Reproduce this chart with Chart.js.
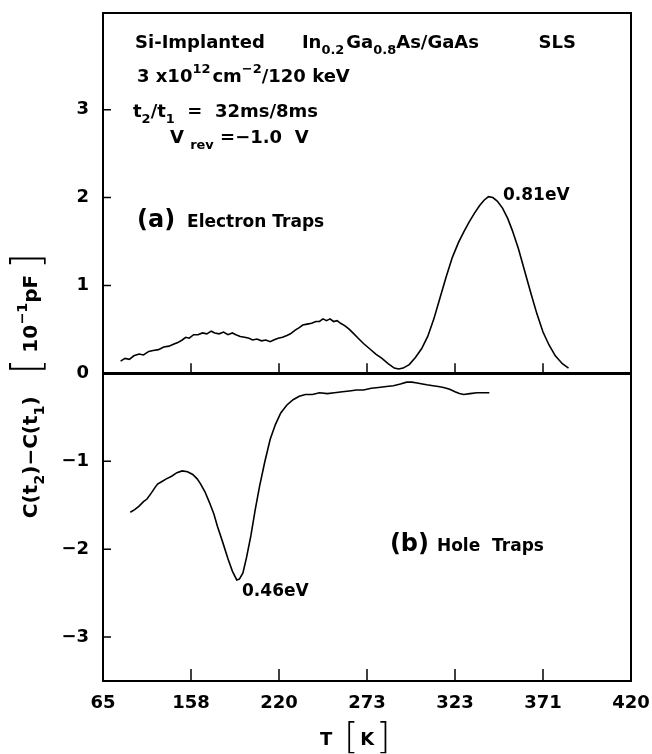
<!DOCTYPE html>
<html lang="en">
<head>
<meta charset="UTF-8">
<title>DLTS spectrum</title>
<script src="https://cdn.jsdelivr.net/npm/chart.js@4"></script>
<style>
  html, body { margin: 0; padding: 0; background: #fff; }
  #dlts { display: block; }
</style>
</head>
<body>
<canvas id="dlts" width="652" height="754"></canvas>
<script>
// the T axis is printed with evenly spaced ticks, so x is kept in tick-position units (0..6)
const xTickLabels = ['65', '158', '220', '273', '323', '371', '420'];
const yTickValues = [-3, -2, -1, 0, 1, 2, 3];

// (a) electron traps
const electronX = [0.20, 0.25, 0.30, 0.35, 0.41, 0.46, 0.52, 0.57, 0.63, 0.69, 0.75, 0.80, 0.85, 0.90, 0.94, 0.98,
  1.03, 1.08, 1.13, 1.18, 1.23, 1.27, 1.32, 1.37, 1.42, 1.47, 1.51, 1.56, 1.61, 1.66, 1.70, 1.75, 1.80, 1.85, 1.90, 1.94,
  1.99, 2.04, 2.09, 2.13, 2.18, 2.23, 2.27, 2.32, 2.37, 2.42, 2.46, 2.50, 2.54, 2.58, 2.62, 2.66, 2.70, 2.75, 2.80, 2.84,
  2.90, 2.96, 3.03, 3.10, 3.17, 3.24, 3.31, 3.36, 3.41, 3.48, 3.55, 3.62, 3.69, 3.76, 3.83, 3.90, 3.97, 4.04, 4.10, 4.16,
  4.22, 4.28, 4.33, 4.38, 4.43, 4.48, 4.54, 4.60, 4.65, 4.72, 4.79, 4.86, 4.93, 5.00, 5.07, 5.14, 5.22, 5.29];
const electronY = [0.14, 0.17, 0.16, 0.20, 0.22, 0.21, 0.25, 0.26, 0.27, 0.30, 0.31, 0.33, 0.35, 0.38, 0.41, 0.40,
  0.44, 0.44, 0.46, 0.45, 0.48, 0.46, 0.45, 0.47, 0.44, 0.46, 0.44, 0.42, 0.41, 0.40, 0.38, 0.39, 0.37, 0.38, 0.36, 0.38,
  0.40, 0.41, 0.43, 0.45, 0.49, 0.52, 0.55, 0.56, 0.57, 0.59, 0.59, 0.62, 0.60, 0.62, 0.59, 0.60, 0.57, 0.54, 0.50, 0.46,
  0.40, 0.34, 0.28, 0.22, 0.17, 0.11, 0.06, 0.05, 0.06, 0.10, 0.18, 0.28, 0.42, 0.62, 0.86, 1.10, 1.32, 1.49, 1.61, 1.72,
  1.82, 1.91, 1.97, 2.01, 2.00, 1.96, 1.88, 1.76, 1.63, 1.42, 1.17, 0.92, 0.68, 0.47, 0.32, 0.20, 0.11, 0.06];

// (b) hole traps
const holeX = [0.31, 0.36, 0.41, 0.46, 0.50, 0.55, 0.59, 0.62, 0.67, 0.72, 0.78, 0.84, 0.90, 0.96, 1.02, 1.07, 1.11,
  1.16, 1.21, 1.26, 1.30, 1.36, 1.42, 1.47, 1.52, 1.55, 1.59, 1.63, 1.68, 1.73, 1.78, 1.84, 1.90, 1.96, 2.02, 2.09, 2.16,
  2.23, 2.30, 2.38, 2.46, 2.55, 2.63, 2.72, 2.80, 2.88, 2.96, 3.05, 3.13, 3.22, 3.30, 3.38, 3.45, 3.51, 3.57, 3.63, 3.68,
  3.75, 3.81, 3.87, 3.94, 4.00, 4.05, 4.10, 4.17, 4.25, 4.32, 4.39];
const holeY = [-1.58, -1.55, -1.51, -1.46, -1.43, -1.36, -1.30, -1.26, -1.23, -1.20, -1.17, -1.13, -1.11, -1.12, -1.15,
  -1.20, -1.26, -1.35, -1.47, -1.60, -1.74, -1.92, -2.11, -2.25, -2.35, -2.34, -2.27, -2.10, -1.85, -1.55, -1.28, -1.00,
  -0.75, -0.58, -0.45, -0.36, -0.30, -0.26, -0.24, -0.24, -0.22, -0.23, -0.22, -0.21, -0.20, -0.19, -0.19, -0.17, -0.16,
  -0.15, -0.14, -0.12, -0.10, -0.10, -0.11, -0.12, -0.13, -0.14, -0.15, -0.16, -0.18, -0.21, -0.23, -0.24, -0.23, -0.22,
  -0.22, -0.22];

const FONT = '"DejaVu Sans", sans-serif';

// draws a row of text pieces; 'sub' / 'sup' shift and shrink, 'big' is a tall thin bracket
function drawRuns(ctx, x, y, runs, size, dry) {
  let cx = x;
  runs.forEach(r => {
    if (typeof r === 'number') { cx += r; return; }
    const t = r[0], k = r[1];
    let fs = size, dy = 0, w = 'bold';
    if (k === 'sub') { fs = size * 0.72; dy = size * 0.34; }
    else if (k === 'sup') { fs = size * 0.72; dy = -size * 0.48; }
    else if (k === 'big') { fs = size * 2.0; dy = size * 0.16; w = '200'; }
    ctx.font = w + ' ' + fs + 'px ' + FONT;
    if (!dry) ctx.fillText(t, cx, y + dy);
    cx += ctx.measureText(t).width;
  });
  return cx - x;
}

// text inside the plot, placed in axis units
const notes = [
  { x: 0.364, y: 3.705, size: 18, runs: [['Si-Implanted']] },
  { x: 2.26, y: 3.705, size: 18, runs: [['In'], ['0.2', 'sub'], 2, ['Ga'], ['0.8', 'sub'], ['As/GaAs']] },
  { x: 4.95, y: 3.705, size: 18, runs: [['SLS']] },
  { x: 0.386, y: 3.318, size: 18, runs: [['3 x10'], ['12', 'sup'], 2, ['cm'], ['−2', 'sup'], ['/'], ['120 keV']] },
  { x: 0.341, y: 2.92, size: 18, runs: [['t'], ['2', 'sub'], ['/'], ['t'], ['1', 'sub'], ['  =  32ms/8ms']] },
  { x: 0.761, y: 2.625, size: 18, runs: [['V '], ['rev', 'sub'], [' =−1.0  V']] },
  { x: 4.545, y: 1.977, size: 17, runs: [['0.81eV']] },
  { x: 0.386, y: 1.66, size: 24, runs: [['(a)']] },
  { x: 0.955, y: 1.66, size: 17, runs: [['Electron Traps']] },
  { x: 3.26, y: -2.02, size: 24, runs: [['(b)']] },
  { x: 3.795, y: -2.02, size: 17, runs: [['Hole  Traps']] },
  { x: 1.58, y: -2.534, size: 17, runs: [['0.46eV']] }
];

const decorations = {
  id: 'decorations',
  afterDatasetsDraw(chart) {
    const ctx = chart.ctx, ca = chart.chartArea;
    const xs = chart.scales.x, ys = chart.scales.y;
    ctx.save();
    ctx.strokeStyle = '#000';
    ctx.fillStyle = '#000';

    // frame
    ctx.lineWidth = 2;
    ctx.strokeRect(ca.left, ca.top, ca.right - ca.left, ca.bottom - ca.top);

    // inward ticks
    ctx.lineWidth = 1.5;
    ctx.beginPath();
    yTickValues.forEach(v => {
      if (v === 0) return;
      const py = ys.getPixelForValue(v);
      ctx.moveTo(ca.left, py);
      ctx.lineTo(ca.left + 8, py);
    });
    const zero = ys.getPixelForValue(0);
    for (let i = 1; i < xTickLabels.length - 1; i++) {
      const px = xs.getPixelForValue(i);
      ctx.moveTo(px, ca.bottom);
      ctx.lineTo(px, ca.bottom - 12);
      ctx.moveTo(px, zero);
      ctx.lineTo(px, zero - 10);
    }
    ctx.stroke();

    // notes
    ctx.textAlign = 'left';
    ctx.textBaseline = 'alphabetic';
    notes.forEach(n => {
      drawRuns(ctx, xs.getPixelForValue(n.x), ys.getPixelForValue(n.y), n.runs, n.size);
    });

    // x title: T [K]
    const tx = xs.getPixelForValue(2.466), ty = ca.bottom + 64;
    drawRuns(ctx, tx, ty, [['T'], 12, ['[', 'big'], 2, ['K'], 2, [']', 'big']], 18);

    // y title, rotated
    const yRuns = [['C(t'], ['2', 'sub'], [')−C(t'], ['1', 'sub'], [')'], 22, ['[', 'big'], 6, ['10'], ['−1', 'sup'], ['pF'], 6, [']', 'big']];
    const w = drawRuns(ctx, 0, 0, yRuns, 20, true);
    ctx.translate(ca.left - 73, ys.getPixelForValue(-0.14));
    ctx.rotate(-Math.PI / 2);
    drawRuns(ctx, -w / 2, 7, yRuns, 20);
    ctx.restore();
  }
};

new Chart(document.getElementById('dlts'), {
  type: 'line',
  data: {
    datasets: [
      {
        label: '(a) Electron Traps',
        data: electronX.map((x, i) => ({ x: x, y: electronY[i] })),
        borderColor: '#000',
        borderWidth: 1.6,
        pointRadius: 0,
        tension: 0
      },
      {
        label: '(b) Hole Traps',
        data: holeX.map((x, i) => ({ x: x, y: holeY[i] })),
        borderColor: '#000',
        borderWidth: 1.6,
        pointRadius: 0,
        tension: 0
      }
    ]
  },
  options: {
    responsive: false,
    animation: false,
    layout: { padding: { top: 13, right: 21, left: 0, bottom: 0 } },
    plugins: {
      legend: { display: false },
      tooltip: { enabled: false }
    },
    scales: {
      x: {
        type: 'linear',
        min: 0,
        max: xTickLabels.length - 1,
        afterBuildTicks: s => { s.ticks = xTickLabels.map((_, i) => ({ value: i })); },
        afterFit: s => { s.height = 73; s.paddingLeft = 0; s.paddingRight = 0; },
        grid: { display: false },
        border: { display: false },
        ticks: {
          autoSkip: false,
          maxRotation: 0,
          padding: 4,
          color: '#000',
          font: { family: FONT, size: 18, weight: 'bold' },
          callback: v => xTickLabels[v]
        }
      },
      y: {
        min: -3.5,
        max: 4.1,
        afterBuildTicks: s => { s.ticks = yTickValues.map(v => ({ value: v })); },
        afterFit: s => { s.width = 103; s.paddingTop = 0; s.paddingBottom = 0; },
        border: { display: false },
        grid: {
          drawTicks: false,
          color: c => (c.tick && c.tick.value === 0) ? '#000' : 'rgba(0,0,0,0)',
          lineWidth: c => (c.tick && c.tick.value === 0) ? 3 : 0
        },
        ticks: {
          padding: 14,
          color: '#000',
          font: { family: FONT, size: 18, weight: 'bold' },
          callback: v => v < 0 ? '−' + Math.abs(v) : String(v)
        }
      }
    }
  },
  plugins: [decorations]
});
</script>
</body>
</html>
